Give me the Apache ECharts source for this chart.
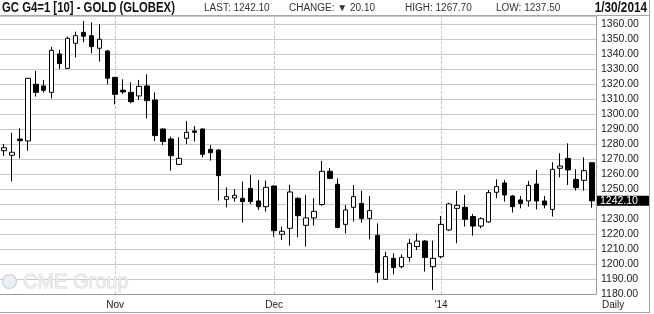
<!DOCTYPE html>
<html><head><meta charset="utf-8">
<script src="https://cdn.jsdelivr.net/npm/echarts@6/dist/echarts.min.js"></script>
<style>html,body{margin:0;padding:0;background:#fff}#c{width:654px;height:314px}</style>
</head><body><div id="c"></div>
<script>
const dates = ['10/14','10/15','10/16','10/17','10/18','10/21','10/22','10/23','10/24','10/25','10/28','10/29','10/30','10/31',
  '11/1','11/4','11/5','11/6','11/7','11/8','11/11','11/12','11/13','11/14','11/15','11/18','11/19','11/20','11/21','11/22','11/25','11/26','11/27','11/29',
  '12/2','12/3','12/4','12/5','12/6','12/9','12/10','12/11','12/12','12/13','12/16','12/17','12/18','12/19','12/20','12/23','12/24','12/26','12/27','12/30','12/31',
  '1/2','1/3','1/6','1/7','1/8','1/9','1/10','1/13','1/14','1/15','1/16','1/17','1/21','1/22','1/23','1/24','1/27','1/28','1/29','1/30'];
const opens = [1275.5,1272.5,1283.3,1282,1319.8,1318.7,1314.4,1340,1330.4,1347.1,1354.4,1352.2,1343.8,1342,
  1324.4,1315.8,1314.4,1312,1318.7,1309.3,1290,1283.3,1266.4,1283.8,1288.7,1290,1276.4,1276,1243.1,1244,1243.8,1250.4,1242,1238.2,
  1252,1219.8,1223.8,1243.8,1225.8,1230.7,1239.6,1261.8,1253.1,1226.4,1237.8,1240.4,1230.4,1219.1,1189.8,1203.8,1198.2,1204.4,1211.6,1215.3,1198.2,
  1204.9,1222.7,1237.1,1237.8,1231.6,1225.3,1228,1247.8,1254,1245.3,1242.7,1242,1253.3,1242,1236.4,1263.8,1270.4,1256.4,1255.8,1267.5];
const closes = [1277.5,1274.5,1282.2,1323.8,1314.4,1315.8,1342.4,1333.6,1350.4,1352.2,1351.8,1344.9,1349.8,1323.8,
  1313.1,1314.7,1308.2,1318.4,1308.9,1285.6,1281.6,1272.2,1270.4,1287.8,1287.8,1273.1,1274.2,1258.9,1244.9,1245.8,1241.6,1241.6,1238.2,1251.1,
  1222.2,1221.8,1248,1232.2,1230.7,1235.1,1261.8,1257.1,1224.4,1236,1244.9,1230.4,1235.6,1194.4,1204.9,1197.6,1204.4,1213.8,1215.3,1204.4,1203.8,
  1226.4,1240,1239.1,1229.8,1225.3,1230.2,1247.6,1251.6,1246,1238.2,1240.4,1252.4,1242,1239.3,1263.1,1265.3,1262.7,1250.9,1262.2,1242.1];
const highs = [1280,1287.5,1290.4,1324,1328.7,1322.7,1344.7,1342.7,1351.6,1354.9,1362,1361.1,1359.8,1342.7,
  1324.7,1323.1,1321.1,1322.7,1326.4,1314.4,1290.4,1284.9,1284.5,1295.3,1292,1290.2,1279.3,1276.7,1251.1,1249.8,1254.9,1259.3,1256,1255.6,
  1252.2,1224.9,1252.7,1244.4,1246,1243.8,1268.7,1264,1257.1,1239.3,1252.7,1248.7,1245.3,1227.1,1208.2,1207.1,1206.4,1216.7,1220.4,1216,1215.6,
  1232,1240.9,1248.7,1246,1233.3,1231.1,1249.3,1256.4,1256,1246,1245.3,1255.3,1262.7,1245.3,1267.8,1273.8,1280.4,1263.1,1271.1,1267.7];
const lows = [1272,1255,1270.4,1275.5,1311.6,1314.4,1310.4,1330,1330,1337.6,1347.8,1340.4,1334.9,1319.8,
  1306.4,1313.3,1307.1,1309.3,1297.1,1282,1279.3,1262.2,1266,1279.8,1281.6,1271.1,1268.9,1242.2,1237.8,1241.6,1227.6,1240,1236,1234.9,
  1218.2,1216,1212.2,1217.8,1211.6,1225.6,1238.7,1256.5,1223.8,1220.4,1228.2,1227.6,1216.4,1187.6,1189.5,1193.1,1197.1,1201.6,1209.3,1194.9,1182.7,
  1203.8,1222,1213.8,1224.9,1218.9,1223.8,1227.6,1243.8,1241.6,1234.3,1237.1,1238.2,1236.4,1237.1,1231.6,1257.8,1252.7,1248.9,1248.9,1237.5];
const monthTickDates = ['11/1','12/2','1/2'];
const monthTickLabels = ['Nov','Dec',"'14"];
const titleText = 'GC G4=1 [10] - GOLD (GLOBEX)';
const lastPrice = 1242.10;
const changeValue = 20.10;
const highValue = 1267.70;
const lowValue = 1237.50;
const dateText = '1/30/2014';
const periodText = 'Daily';

const chart = echarts.init(document.getElementById('c'), null, {renderer: 'canvas'});
const ohlc = dates.map((d, i) => [opens[i], closes[i], lows[i], highs[i]]);
const isMonthTick = (idx) => monthTickDates.indexOf(dates[idx]) >= 0;
const FONT = '"Liberation Sans", Arial, sans-serif';

chart.setOption({
  animation: false,
  backgroundColor: '#fff',
  grid: {left: -5.3, right: 58, top: 16, bottom: 20, containLabel: false},
  xAxis: {
    type: 'category', data: dates, boundaryGap: true,
    axisLine: {show: true, lineStyle: {color: '#9a9a9a', width: 1}},
    axisTick: {show: false},
    axisLabel: {
      interval: (idx) => isMonthTick(idx),
      formatter: (v) => monthTickLabels[monthTickDates.indexOf(v)] || '',
      color: '#222', fontFamily: FONT, fontSize: 10, margin: 6
    },
    splitLine: {show: true, interval: (idx) => isMonthTick(idx), alignWithLabel: true,
      lineStyle: {color: '#cdbfcd', type: [3, 2], width: 1}}
  },
  yAxis: {
    type: 'value', position: 'right', min: 1180, max: 1365.3, interval: 10, scale: true,
    axisLine: {show: true, lineStyle: {color: '#9a9a9a', width: 1}},
    axisTick: {show: false},
    axisLabel: {
      showMaxLabel: false, margin: 5, color: '#222', fontFamily: FONT, fontSize: 10.5,
      formatter: (v) => v === 1240 ? '' : v.toFixed(2)
    },
    splitLine: {show: true, lineStyle: {color: '#c6cac6', width: 1}}
  },
  series: [{
    type: 'candlestick', data: ohlc, barWidth: 5, z: 3,
    itemStyle: {color: '#ffffff', color0: '#000000', borderColor: '#000000', borderColor0: '#000000', borderWidth: 1}
  }]
});

const tagY = chart.convertToPixel({yAxisIndex: 0}, lastPrice);
chart.setOption({
  graphic: [
    {type: 'line', shape: {x1: 0, y1: 15.5, x2: 650, y2: 15.5}, style: {stroke: '#a8a8a8', lineWidth: 1}, z: 10},
    {type: 'line', shape: {x1: 649.5, y1: 0, x2: 649.5, y2: 313}, style: {stroke: '#a8a8a8', lineWidth: 1}, z: 10},
    {type: 'line', shape: {x1: 0, y1: 312.5, x2: 650, y2: 312.5}, style: {stroke: '#a8a8a8', lineWidth: 1}, z: 10},
    {type: 'text', x: 2, y: 1, scaleX: 0.81, style: {text: titleText, font: 'bold 14px ' + FONT, fill: '#111', textVerticalAlign: 'top'}, z: 10},
    {type: 'text', x: 204, y: 3, style: {text: 'LAST: ' + lastPrice.toFixed(2), font: '10px ' + FONT, fill: '#333', textVerticalAlign: 'top'}, z: 10},
    {type: 'text', x: 289, y: 3, style: {text: 'CHANGE: \u25BC ' + changeValue.toFixed(2), font: '10px ' + FONT, fill: '#333', textVerticalAlign: 'top'}, z: 10},
    {type: 'text', x: 405, y: 3, style: {text: 'HIGH: ' + highValue.toFixed(2), font: '10px ' + FONT, fill: '#333', textVerticalAlign: 'top'}, z: 10},
    {type: 'text', x: 496, y: 3, style: {text: 'LOW: ' + lowValue.toFixed(2), font: '10px ' + FONT, fill: '#333', textVerticalAlign: 'top'}, z: 10},
    {type: 'text', x: 647, y: 1, scaleX: 0.84, style: {text: dateText, font: 'bold 14px ' + FONT, fill: '#111', textAlign: 'right', textVerticalAlign: 'top'}, z: 10},
    {type: 'text', x: 602, y: 300, style: {text: periodText, font: '10px ' + FONT, fill: '#222', textVerticalAlign: 'top'}, z: 10},
    {type: 'circle', shape: {cx: 9.5, cy: 281.5, r: 7}, style: {fill: '#eceff4', stroke: '#d2d6de', lineWidth: 1.5}, z: 1},
    {type: 'text', x: 23, y: 272, style: {text: 'CME Group', font: '20px ' + FONT, fill: '#ececec', stroke: '#d4d4d4', lineWidth: 0.8, textVerticalAlign: 'top'}, z: 1},
    {type: 'rect', shape: {x: 597, y: tagY - 5, width: 52, height: 10}, style: {fill: '#000'}, z: 20},
    {type: 'text', x: 600, y: tagY - 5.5, style: {text: lastPrice.toFixed(2), font: '10.5px ' + FONT, fill: '#fff', textVerticalAlign: 'top'}, z: 21}
  ]
});
</script></body></html>
